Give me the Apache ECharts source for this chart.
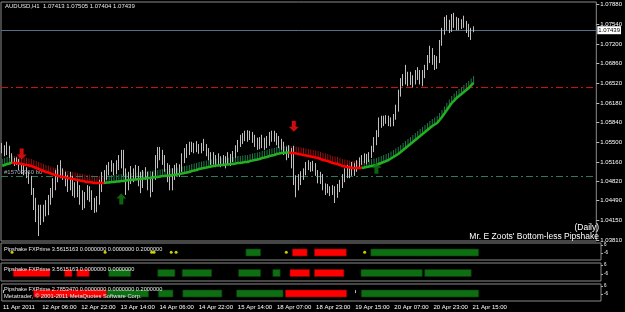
<!DOCTYPE html>
<html><head><meta charset="utf-8">
<script src="https://cdn.jsdelivr.net/npm/echarts@6/dist/echarts.min.js"></script>
<style>html,body{margin:0;padding:0;background:#000;}#c{width:625px;height:312px;}</style>
</head><body><div id="c"></div>
<script>
// ---------- data ----------
const symbolName = "AUDUSD,H1";
const xTicks = ["11 Apr 2011","12 Apr 06:00","12 Apr 22:00","13 Apr 14:00","14 Apr 06:00","14 Apr 22:00","15 Apr 14:00","18 Apr 07:00","18 Apr 23:00","19 Apr 15:00","20 Apr 07:00","20 Apr 23:00","21 Apr 15:00"];
const barsPerTick = 16;
const slotCount = 245;
const priceTicks = [1.0788,1.0754,1.0720,1.0686,1.0652,1.0618,1.0584,1.0550,1.0516,1.0482,1.0449,1.0415,1.0381];
const panelTicks = [-6,0,6];
// [open, close, low, high]
const ohlc = [
[1.0537,1.0542,1.0531,1.0549],[1.0542,1.0533,1.0526,1.0545],[1.0533,1.0540,1.0528,1.0551],[1.0540,1.0528,1.0523,1.0544],[1.0528,1.0519,1.0514,1.0531],
[1.0519,1.0514,1.0509,1.0523],[1.0514,1.0519,1.0511,1.0524],[1.0519,1.0509,1.0502,1.0521],[1.0509,1.0502,1.0495,1.0512],[1.0502,1.0505,1.0493,1.0511],
[1.0505,1.0493,1.0488,1.0507],[1.0493,1.0488,1.0478,1.0499],[1.0488,1.0467,1.0459,1.0492],[1.0467,1.0450,1.0433,1.0471],[1.0450,1.0424,1.0412,1.0454],
[1.0424,1.0433,1.0388,1.0442],[1.0433,1.0419,1.0407,1.0442],[1.0419,1.0436,1.0412,1.0442],[1.0436,1.0429,1.0422,1.0450],[1.0429,1.0450,1.0424,1.0459],
[1.0450,1.0459,1.0442,1.0471],[1.0459,1.0476,1.0454,1.0488],[1.0476,1.0488,1.0467,1.0502],[1.0488,1.0499,1.0481,1.0511],[1.0499,1.0505,1.0488,1.0519],
[1.0505,1.0493,1.0485,1.0505],[1.0493,1.0485,1.0474,1.0499],[1.0485,1.0476,1.0464,1.0493],[1.0476,1.0488,1.0467,1.0499],[1.0488,1.0471,1.0457,1.0492],
[1.0471,1.0464,1.0454,1.0481],[1.0464,1.0476,1.0455,1.0485],[1.0476,1.0459,1.0442,1.0476],[1.0459,1.0442,1.0433,1.0467],[1.0442,1.0454,1.0436,1.0464],
[1.0454,1.0467,1.0450,1.0476],[1.0467,1.0457,1.0447,1.0474],[1.0457,1.0450,1.0433,1.0467],[1.0450,1.0436,1.0428,1.0454],[1.0436,1.0445,1.0429,1.0457],
[1.0445,1.0467,1.0442,1.0485],[1.0467,1.0485,1.0464,1.0499],[1.0485,1.0492,1.0478,1.0502],[1.0492,1.0499,1.0485,1.0511],[1.0499,1.0505,1.0493,1.0516],
[1.0505,1.0511,1.0499,1.0519],[1.0511,1.0502,1.0493,1.0514],[1.0502,1.0509,1.0495,1.0519],[1.0509,1.0519,1.0502,1.0528],[1.0519,1.0523,1.0505,1.0537],
[1.0523,1.0502,1.0492,1.0537],[1.0502,1.0476,1.0459,1.0505],[1.0476,1.0485,1.0467,1.0499],[1.0485,1.0499,1.0478,1.0509],[1.0499,1.0492,1.0481,1.0505],
[1.0492,1.0502,1.0485,1.0511],[1.0502,1.0493,1.0474,1.0509],[1.0493,1.0481,1.0462,1.0499],[1.0481,1.0488,1.0471,1.0502],[1.0488,1.0499,1.0485,1.0507],
[1.0499,1.0485,1.0467,1.0499],[1.0485,1.0471,1.0455,1.0488],[1.0471,1.0488,1.0464,1.0499],[1.0488,1.0511,1.0485,1.0528],[1.0511,1.0528,1.0505,1.0542],
[1.0528,1.0533,1.0519,1.0542],[1.0533,1.0523,1.0511,1.0537],[1.0523,1.0511,1.0499,1.0528],[1.0511,1.0493,1.0481,1.0514],[1.0493,1.0502,1.0467,1.0511],
[1.0502,1.0488,1.0467,1.0505],[1.0488,1.0499,1.0485,1.0511],[1.0499,1.0505,1.0492,1.0514],[1.0505,1.0502,1.0490,1.0512],[1.0502,1.0519,1.0499,1.0531],
[1.0519,1.0528,1.0514,1.0540],[1.0528,1.0537,1.0523,1.0547],[1.0537,1.0540,1.0528,1.0551],[1.0540,1.0544,1.0533,1.0551],[1.0544,1.0540,1.0531,1.0549],
[1.0540,1.0545,1.0533,1.0552],[1.0545,1.0537,1.0530,1.0547],[1.0537,1.0540,1.0531,1.0549],[1.0540,1.0544,1.0535,1.0556],[1.0544,1.0533,1.0526,1.0547],
[1.0533,1.0528,1.0519,1.0540],[1.0528,1.0519,1.0511,1.0533],[1.0519,1.0523,1.0512,1.0533],[1.0523,1.0516,1.0507,1.0528],[1.0516,1.0523,1.0511,1.0531],
[1.0523,1.0514,1.0507,1.0526],[1.0514,1.0519,1.0509,1.0528],[1.0519,1.0516,1.0505,1.0526],[1.0516,1.0523,1.0512,1.0533],[1.0523,1.0519,1.0509,1.0530],
[1.0519,1.0526,1.0516,1.0535],[1.0526,1.0537,1.0523,1.0545],[1.0537,1.0545,1.0533,1.0554],[1.0545,1.0554,1.0542,1.0563],[1.0554,1.0558,1.0547,1.0566],
[1.0558,1.0563,1.0552,1.0570],[1.0563,1.0559,1.0551,1.0571],[1.0559,1.0564,1.0554,1.0570],[1.0564,1.0558,1.0549,1.0568],[1.0558,1.0551,1.0542,1.0563],
[1.0551,1.0545,1.0537,1.0558],[1.0545,1.0549,1.0538,1.0559],[1.0549,1.0554,1.0540,1.0563],[1.0554,1.0545,1.0537,1.0558],[1.0545,1.0551,1.0540,1.0561],
[1.0551,1.0558,1.0544,1.0568],[1.0558,1.0563,1.0551,1.0570],[1.0563,1.0559,1.0551,1.0570],[1.0559,1.0554,1.0545,1.0566],[1.0554,1.0549,1.0540,1.0561],
[1.0549,1.0545,1.0537,1.0556],[1.0545,1.0537,1.0528,1.0551],[1.0537,1.0528,1.0519,1.0542],[1.0528,1.0537,1.0523,1.0545],[1.0537,1.0519,1.0505,1.0540],
[1.0519,1.0488,1.0476,1.0544],[1.0488,1.0481,1.0455,1.0493],[1.0481,1.0485,1.0467,1.0495],[1.0485,1.0492,1.0476,1.0500],[1.0492,1.0499,1.0485,1.0505],
[1.0499,1.0509,1.0493,1.0516],[1.0509,1.0512,1.0502,1.0519],[1.0512,1.0505,1.0499,1.0516],[1.0505,1.0509,1.0500,1.0518],[1.0509,1.0499,1.0492,1.0514],
[1.0499,1.0488,1.0479,1.0502],[1.0488,1.0492,1.0478,1.0499],[1.0492,1.0476,1.0467,1.0495],[1.0476,1.0467,1.0459,1.0479],[1.0467,1.0471,1.0462,1.0478],
[1.0471,1.0464,1.0457,1.0474],[1.0464,1.0469,1.0459,1.0476],[1.0469,1.0462,1.0445,1.0474],[1.0462,1.0467,1.0454,1.0478],[1.0467,1.0476,1.0464,1.0485],
[1.0476,1.0488,1.0471,1.0495],[1.0488,1.0495,1.0481,1.0505],[1.0495,1.0502,1.0488,1.0511],[1.0502,1.0499,1.0488,1.0509],[1.0499,1.0505,1.0492,1.0516],
[1.0505,1.0502,1.0492,1.0514],[1.0502,1.0511,1.0499,1.0519],[1.0511,1.0516,1.0505,1.0524],[1.0516,1.0519,1.0511,1.0528],[1.0519,1.0523,1.0514,1.0531],
[1.0523,1.0519,1.0512,1.0530],[1.0519,1.0526,1.0516,1.0533],[1.0526,1.0537,1.0523,1.0544],[1.0537,1.0551,1.0533,1.0559],[1.0551,1.0563,1.0545,1.0571],
[1.0563,1.0580,1.0559,1.0593],[1.0580,1.0589,1.0575,1.0596],[1.0589,1.0585,1.0578,1.0596],[1.0585,1.0593,1.0582,1.0597],[1.0593,1.0587,1.0578,1.0596],
[1.0587,1.0582,1.0577,1.0593],[1.0582,1.0593,1.0578,1.0599],[1.0593,1.0606,1.0589,1.0615],[1.0606,1.0632,1.0603,1.0641],[1.0632,1.0654,1.0629,1.0661],
[1.0654,1.0658,1.0647,1.0668],[1.0658,1.0665,1.0650,1.0684],[1.0665,1.0658,1.0647,1.0672],[1.0658,1.0661,1.0649,1.0672],[1.0661,1.0654,1.0645,1.0666],
[1.0654,1.0665,1.0650,1.0675],[1.0665,1.0672,1.0658,1.0680],[1.0672,1.0661,1.0650,1.0675],[1.0661,1.0666,1.0647,1.0675],[1.0666,1.0675,1.0661,1.0684],
[1.0675,1.0689,1.0675,1.0701],[1.0689,1.0706,1.0687,1.0717],[1.0706,1.0696,1.0684,1.0713],[1.0696,1.0682,1.0675,1.0701],[1.0682,1.0689,1.0677,1.0699],
[1.0689,1.0718,1.0687,1.0727],[1.0718,1.0741,1.0717,1.0748],[1.0741,1.0753,1.0736,1.0767],[1.0753,1.0758,1.0744,1.0770],[1.0758,1.0744,1.0739,1.0762],
[1.0744,1.0758,1.0741,1.0772],[1.0758,1.0762,1.0748,1.0774],[1.0762,1.0753,1.0744,1.0767],[1.0753,1.0758,1.0744,1.0765],[1.0758,1.0755,1.0746,1.0763],
[1.0755,1.0762,1.0748,1.0769],[1.0762,1.0751,1.0739,1.0760],[1.0751,1.0744,1.0732,1.0755],[1.0744,1.0737,1.0727,1.0748],[1.07413,1.07439,1.07404,1.07505]
];
const ma = [
1.05090,1.05108,1.05125,1.05133,1.05151,1.05142,1.05142,1.05133,1.05125,1.05116,
1.05108,1.05099,1.05090,1.05073,1.05056,1.05038,1.05021,1.05004,1.04986,1.04978,
1.04960,1.04943,1.04935,1.04917,1.04909,1.04900,1.04891,1.04883,1.04874,1.04865,
1.04857,1.04848,1.04839,1.04831,1.04822,1.04813,1.04813,1.04805,1.04796,1.04796,
1.04796,1.04796,1.04796,1.04805,1.04805,1.04813,1.04813,1.04822,1.04822,1.04831,
1.04831,1.04839,1.04848,1.04848,1.04857,1.04857,1.04865,1.04865,1.04874,1.04874,
1.04883,1.04883,1.04891,1.04900,1.04900,1.04909,1.04917,1.04917,1.04926,1.04926,
1.04935,1.04935,1.04943,1.04952,1.04960,1.04969,1.04978,1.04986,1.05004,1.05012,
1.05021,1.05038,1.05047,1.05056,1.05064,1.05073,1.05082,1.05090,1.05099,1.05099,
1.05108,1.05108,1.05116,1.05116,1.05125,1.05125,1.05133,1.05142,1.05142,1.05151,
1.05159,1.05159,1.05177,1.05185,1.05194,1.05203,1.05211,1.05229,1.05237,1.05246,
1.05263,1.05272,1.05281,1.05298,1.05306,1.05315,1.05315,1.05324,1.05324,1.05315,
1.05315,1.05306,1.05298,1.05289,1.05281,1.05272,1.05263,1.05255,1.05246,1.05237,
1.05229,1.05211,1.05194,1.05185,1.05177,1.05159,1.05142,1.05133,1.05125,1.05108,
1.05090,1.05082,1.05073,1.05064,1.05056,1.05056,1.05056,1.05056,1.05056,1.05064,
1.05073,1.05082,1.05090,1.05099,1.05108,1.05125,1.05142,1.05159,1.05177,1.05194,
1.05220,1.05246,1.05272,1.05298,1.05332,1.05367,1.05402,1.05436,1.05471,1.05505,
1.05540,1.05575,1.05609,1.05644,1.05678,1.05713,1.05748,1.05782,1.05808,1.05834,
1.05886,1.05938,1.05998,1.06059,1.06120,1.06180,1.06223,1.06267,1.06301,1.06336,
1.06370,1.06405,1.06440,1.06483,1.06526
];
const redLevel = 1.0646;
const tealLevel = 1.0492;
const tealLabel = "#15703960 b0";
const downArrows = [[8,1.0530],[120,1.0578]];
const upArrows = [[49,1.0452],[154,1.0505]];
// [firstBar, lastBar, state] state 1 = green, -1 = red
const panel1Runs = [[100,105,1],[119,124,-1],[128,140,-1],[151,194,1]];
const panel1Dots = [4,42,61,62,69,71,116,148];
const panel2Runs = [[5,19,-1],[26,28,-1],[31,35,-1],[44,52,1],[64,70,1],[74,85,1],[97,105,1],[111,113,1],[118,125,-1],[128,139,-1],[147,171,1],[173,191,1]];
const panel3Runs = [[13,42,-1],[43,59,1],[64,69,1],[74,89,1],[96,114,1],[116,140,-1],[147,194,1]];
const panelCaptions = [
 "Pipshake FXPrime 3.5615163 0.0000000 0.0000000 0.2000000",
 "Pipshake FXPrime 3.5615163 0.0000000 0.0000000",
 "Pipshake FXPrime 2.7853470 0.0000000 0.0000000 0.2000000"
];
const copyrightText = "Metatrader, \u00a9 2001-2011 MetaQuotes Software Corp.";
const indicatorName = "Mr. E Zoots' Bottom-less Pipshake";
const timeframeNote = "(Daily)";

// ---------- build ----------
const cats = [];
for (let i = 0; i < slotCount; i++) cats.push(String(i));
const last = ohlc[ohlc.length - 1];
const titleText = symbolName + "  " + [last[0], last[3], last[2], last[1]].map(v => v.toFixed(5)).join(" ");

const trend = [];
for (let i = 0; i < ma.length; i++) {
  if (i === 0) { trend.push(1); continue; }
  const d = ma[i] - ma[i-1];
  trend.push(d > 1e-9 ? 1 : (d < -1e-9 ? -1 : trend[i-1]));
}
const maGreen = ma.map(() => null), maRed = ma.map(() => null);
for (let i = 0; i < ma.length; i++) {
  const tgt = trend[i] > 0 ? maGreen : maRed;
  tgt[i] = ma[i];
  if (i > 0) tgt[i-1] = ma[i-1];
}
const hairData = ma.map((v, i) => [i, v, trend[i]]);

const FONT = "Liberation Sans";
const txt = "#ffffff";
const grids = [
  {left: 1, right: 24, top: 2, height: 239},
  {left: 1, right: 24, top: 243, height: 17},
  {left: 1, right: 24, top: 263, height: 18},
  {left: 1, right: 24, top: 284, height: 17}
].map(g => Object.assign(g, {show: true, borderColor: '#8a8a8a', borderWidth: 1, backgroundColor: '#000'}));

function xAx(idx, showLabels) {
  return {
    type: 'category', gridIndex: idx, data: cats, boundaryGap: true,
    axisLine: {show: false},
    axisTick: {show: showLabels, alignWithLabel: true, length: 3, lineStyle: {color: '#bbbbbb'},
      interval: (i) => i % barsPerTick === 0 && i / barsPerTick < xTicks.length},
    axisLabel: {show: showLabels, color: txt, fontSize: 6, fontFamily: FONT, align: 'left', margin: 3,
      interval: (i) => i % barsPerTick === 0 && i / barsPerTick < xTicks.length,
      formatter: (v, i) => xTicks[i / barsPerTick] || ''},
    splitLine: {show: false}
  };
}
function panelY(idx) {
  return {
    type: 'value', gridIndex: idx, position: 'right', min: -16, max: 9,
    axisLine: {show: false}, splitLine: {show: false},
    axisTick: {show: true, length: 2, lineStyle: {color: '#aaa'}, customValues: panelTicks},
    axisLabel: {color: txt, fontSize: 4.5, lineHeight: 4, fontFamily: FONT, margin: 3, customValues: panelTicks,
      hideOverlap: false, showMinLabel: true, showMaxLabel: true, formatter: v => v === 0 ? '0.00' : String(v)}
  };
}

function blockSeries(idx, runs) {
  return {
    type: 'custom', xAxisIndex: idx, yAxisIndex: idx, data: runs,
    encode: {x: [0, 1]},
    renderItem: (params, api) => {
      const cs = params.coordSys;
      const w = api.size([1, 0])[0];
      const x0 = api.coord([api.value(0), 0])[0] - w / 2;
      const x1 = api.coord([api.value(1), 0])[0] + w / 2;
      const cy = cs.y + cs.height / 2 + 1;
      const st = api.value(2);
      return {type: 'rect', shape: {x: x0, y: cy - 3.5, width: x1 - x0, height: 7},
        style: {fill: st > 0 ? '#0e6e12' : '#ff0000', stroke: st > 0 ? '#063d08' : '#8a0000', lineWidth: 0.6}};
    },
    z: 2
  };
}

const mainPriceMin = 1.03793, mainPriceMax = 1.07927;

const option = {
  backgroundColor: '#000',
  animation: false,
  grid: grids,
  xAxis: [xAx(0, false), xAx(1, false), xAx(2, false), xAx(3, true)],
  yAxis: [
    {type: 'value', gridIndex: 0, position: 'right', min: mainPriceMin, max: mainPriceMax,
     axisLine: {show: false}, splitLine: {show: false},
     axisTick: {show: true, length: 3, lineStyle: {color: '#bbb'}, customValues: priceTicks},
     axisLabel: {color: txt, fontSize: 6, fontFamily: FONT, margin: 4, customValues: priceTicks,
       formatter: v => v.toFixed(5)}},
    panelY(1), panelY(2), panelY(3)
  ],
  series: [
    {type: 'custom', xAxisIndex: 0, yAxisIndex: 0, data: hairData, z: 1,
     renderItem: (params, api) => {
       const p = api.coord([api.value(0), api.value(1)]);
       const up = api.value(2) > 0;
       return {type: 'line', shape: {x1: p[0], y1: p[1], x2: p[0], y2: p[1] - 7},
         style: {stroke: up ? '#1f7a4a' : '#9a1010', lineWidth: 1}};
     }},
    {type: 'candlestick', xAxisIndex: 0, yAxisIndex: 0, data: ohlc, barWidth: 1, z: 3,
     itemStyle: {color: '#000000', borderColor: '#c0c0c0', color0: '#a0a0a0', borderColor0: '#c0c0c0', borderWidth: 1}},
    {type: 'line', xAxisIndex: 0, yAxisIndex: 0, data: maGreen, symbol: 'none', z: 4,
     lineStyle: {color: '#22b022', width: 2.5}, connectNulls: false,
     markLine: {symbol: 'none', silent: true, animation: false, precision: 5, z: 2,
       lineStyle: {width: 1},
       data: [
         {name: 'red', yAxis: redLevel, lineStyle: {color: '#d01010', width: 1, type: [7, 3, 2, 3], opacity: 1}, label: {show: false}},
         {name: 'teal', yAxis: tealLevel, lineStyle: {color: '#2a7a66', width: 1, type: [7, 3, 2, 3], opacity: 1},
          label: {show: true, position: 'insideStartTop', formatter: tealLabel, color: '#9fb2b8', fontSize: 6, fontFamily: FONT, distance: [3, 1]}},
         {name: 'last', yAxis: last[1], lineStyle: {color: '#56708a', width: 1, type: 'solid', opacity: 1},
          label: {show: true, position: 'end', formatter: p => Number(p.value).toFixed(5), color: '#000', backgroundColor: '#ffffff',
            fontSize: 6, fontFamily: FONT, padding: [1, 1], distance: 1}}
       ]}},
    {type: 'line', xAxisIndex: 0, yAxisIndex: 0, data: maRed, symbol: 'none', z: 4,
     lineStyle: {color: '#ff0000', width: 2.5}, connectNulls: false},
    {type: 'scatter', xAxisIndex: 0, yAxisIndex: 0, data: downArrows, z: 5,
     symbol: 'path://M3,0 L7,0 L7,6 L10,6 L5,11 L0,6 L3,6 Z', symbolSize: [10, 11],
     itemStyle: {color: '#ff1010'}},
    {type: 'scatter', xAxisIndex: 0, yAxisIndex: 0, data: upArrows, z: 5,
     symbol: 'path://M5,0 L10,5 L7,5 L7,11 L3,11 L3,5 L0,5 Z', symbolSize: [10, 11],
     itemStyle: {color: '#127a12'}},
    blockSeries(1, panel1Runs),
    {type: 'scatter', xAxisIndex: 1, yAxisIndex: 1, data: panel1Dots.map(i => [i, -4.5]), z: 3,
     symbolSize: 3, itemStyle: {color: '#ffff00'}},
    blockSeries(2, panel2Runs),
    blockSeries(3, panel3Runs)
  ],
  graphic: [
    {type: 'text', left: 5, top: 3, z: 100, style: {text: titleText, fill: '#e8e8e8', font: '6px ' + FONT}},
    {type: 'text', right: 26, top: 223, z: 100, style: {text: timeframeNote, fill: '#ffffff', font: '8.5px ' + FONT, textAlign: 'right'}},
    {type: 'text', right: 26, top: 232, z: 100, style: {text: indicatorName, fill: '#ffffff', font: '8.5px ' + FONT, textAlign: 'right'}},
    {type: 'text', left: 4, top: 246, z: 100, style: {text: panelCaptions[0], fill: '#e8e8e8', font: '5.6px ' + FONT}},
    {type: 'text', left: 4, top: 266, z: 100, style: {text: panelCaptions[1], fill: '#e8e8e8', font: '5.6px ' + FONT}},
    {type: 'text', left: 4, top: 286, z: 100, style: {text: panelCaptions[2], fill: '#e8e8e8', font: '5.6px ' + FONT}},
    {type: 'text', left: 4, top: 293, z: 100, style: {text: copyrightText, fill: '#e8e8e8', font: '5.8px ' + FONT}}
  ]
};
const chart = echarts.init(document.getElementById('c'), null, {renderer: 'canvas'});
chart.setOption(option);
</script></body></html>
